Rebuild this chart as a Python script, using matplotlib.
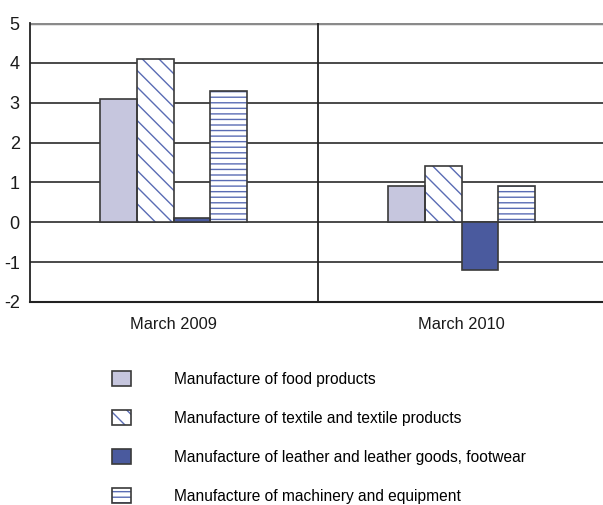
import matplotlib
matplotlib.use("Agg")
import matplotlib.pyplot as plt
import numpy as np
from matplotlib.legend_handler import HandlerTuple

plt.rcParams['font.family'] = ['Liberation Sans', 'DejaVu Sans']
plt.rcParams['axes.unicode_minus'] = False

periods = ["March 2009", "March 2010"]
series = [
    "Manufacture of food products",
    "Manufacture of textile and textile products",
    "Manufacture of leather and leather goods, footwear",
    "Manufacture of machinery and equipment",
]
food = [3.1, 0.9]
textile = [4.1, 1.4]
leather = [0.1, -1.2]
machinery = [3.3, 0.9]
yticks = [-2, -1, 0, 1, 2, 3, 4, 5]

values = [food, textile, leather, machinery]
faces = ["#c6c6de", "white", "#4a5a9e", "white"]
hatches = [None, "\\\\", None, "---"]

fig = plt.figure(figsize=(6.03, 5.05), dpi=100)
ax = fig.add_axes([29.5 / 603, 1 - 302 / 505, 576 / 603, 279 / 505])

x = np.arange(len(periods))
w = 0.128
handles = []
for i, (vals, fc, h) in enumerate(zip(values, faces, hatches)):
    pos = x + (i - 1.5) * w
    fill = ax.bar(pos, vals, w, color=fc, hatch=h, edgecolor="#5a6cb4",
                  linewidth=0, zorder=3)
    outline = ax.bar(pos, vals, w, fill=False, edgecolor="#3a3a3a",
                     linewidth=1.2, zorder=4)
    handles.append((fill, outline))

ax.set_xlim(-0.5, 1.5)
ax.set_ylim(-2, 5)
ax.set_yticks(yticks)
ax.set_xticks(x)
ax.set_xticklabels(periods)
ax.tick_params(length=0, colors="#1a1a1a")
ax.tick_params(axis="x", pad=11, labelsize=11.8)
ax.tick_params(axis="y", pad=7, labelsize=13)

for v in yticks[1:-1]:
    ax.axhline(v, color="#3c3c3c", lw=1.3, zorder=1)
ax.axhline(5, color="#8a8a8a", lw=2.5, zorder=1)
ax.axvline(0.5, color="#222222", lw=1.3, zorder=1)

for s in ["top", "right"]:
    ax.spines[s].set_visible(False)
ax.spines["left"].set_color("#222222")
ax.spines["bottom"].set_color("#222222")
ax.spines["left"].set_linewidth(1.3)
ax.spines["bottom"].set_linewidth(1.5)

fig.legend(handles, series, handler_map={tuple: HandlerTuple(ndivide=1)},
           loc="upper left", bbox_to_anchor=(112 / 603, 1 - 371 / 505),
           frameon=False, fontsize=11.2, handlelength=1.25, handleheight=1.1,
           handletextpad=2.75, labelspacing=1.5, borderaxespad=0,
           borderpad=0)

fig.savefig("out.png", dpi=100)
